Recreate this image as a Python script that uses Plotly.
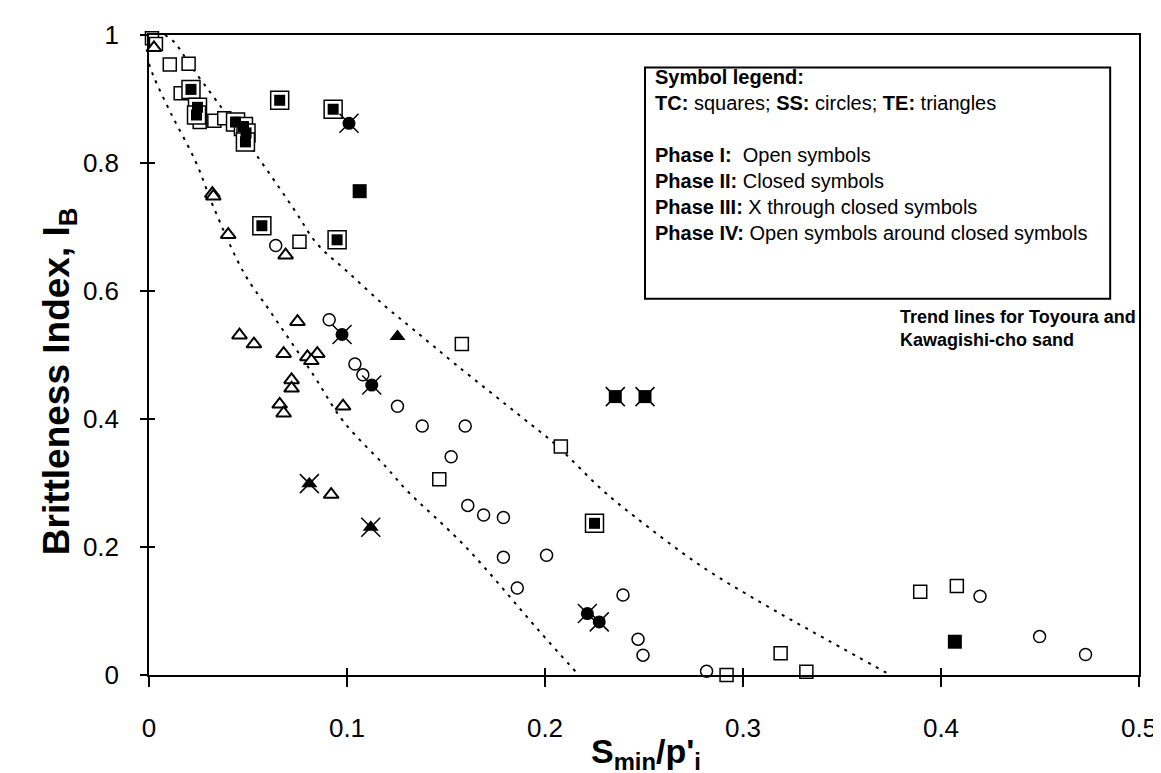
import plotly.graph_objects as go

# ---------------- data ----------------
# TC tests (squares)
tc_open_x = [0.0015, 0.0035, 0.0105, 0.020, 0.016, 0.0256, 0.033, 0.038, 0.076, 0.158, 0.208, 0.1466,
             0.2887, 0.2917, 0.319, 0.332, 0.3895, 0.408]
tc_open_y = [0.995, 0.986, 0.954, 0.955, 0.909, 0.864, 0.866, 0.870, 0.677, 0.517, 0.357, 0.306,
             -0.008, 0.000, 0.034, 0.005, 0.130, 0.139]
tc_closed_x = [0.1064, 0.407]
tc_closed_y = [0.756, 0.052]
tc_xthru_x = [0.2355, 0.2505]
tc_xthru_y = [0.435, 0.435]
tc_around_x = [0.0212, 0.0245, 0.024, 0.0437, 0.0477, 0.049, 0.0487, 0.066, 0.093, 0.057, 0.095, 0.225]
tc_around_y = [0.915, 0.887, 0.875, 0.864, 0.857, 0.847, 0.833, 0.898, 0.884, 0.702, 0.680, 0.237]

# SS tests (circles)
ss_open_x = [0.064, 0.091, 0.104, 0.108, 0.1255, 0.138, 0.1597, 0.1526, 0.161, 0.169, 0.179, 0.179,
             0.186, 0.2008, 0.2394, 0.247, 0.2495, 0.265, 0.2816, 0.4197, 0.4498, 0.473]
ss_open_y = [0.671, 0.555, 0.486, 0.469, 0.420, 0.389, 0.389, 0.341, 0.265, 0.250, 0.246, 0.184,
             0.136, 0.187, 0.125, 0.056, 0.031, -0.008, 0.006, 0.123, 0.060, 0.032]
ss_xthru_x = [0.101, 0.0975, 0.1125, 0.2214, 0.2274]
ss_xthru_y = [0.862, 0.532, 0.453, 0.096, 0.083]

# TE tests (triangles)
te_open_x = [0.0025, 0.032, 0.0325, 0.040, 0.069, 0.075, 0.0457, 0.053, 0.068, 0.080, 0.085, 0.082,
             0.072, 0.072, 0.066, 0.068, 0.098, 0.092]
te_open_y = [0.980, 0.752, 0.748, 0.688, 0.656, 0.552, 0.531, 0.517, 0.502, 0.497, 0.502, 0.491,
             0.461, 0.448, 0.423, 0.409, 0.420, 0.282]
te_closed_x = [0.1255]
te_closed_y = [0.529]
te_xthru_x = [0.081, 0.112]
te_xthru_y = [0.299, 0.231]

# trend lines (Toyoura and Kawagishi-cho sand)
trend_lo_x = [0.0, 0.0025, 0.011, 0.0236, 0.0326, 0.048, 0.061, 0.083, 0.098, 0.120, 0.130, 0.160, 0.197, 0.217]
trend_lo_y = [0.955, 0.934, 0.878, 0.802, 0.731, 0.628, 0.569, 0.469, 0.397, 0.324, 0.289, 0.200, 0.069, 0.0]
trend_hi_x = [0.008, 0.013, 0.021, 0.0346, 0.0557, 0.0738, 0.0848, 0.101, 0.119, 0.1335, 0.155, 0.189,
              0.205, 0.229, 0.2455, 0.279, 0.312, 0.343, 0.3745]
trend_hi_y = [1.0, 0.988, 0.952, 0.895, 0.806, 0.725, 0.674, 0.628, 0.577, 0.540, 0.485, 0.401,
              0.361, 0.289, 0.247, 0.170, 0.108, 0.054, 0.0]

x_ticks = [0, 0.1, 0.2, 0.3, 0.4, 0.5]
y_ticks = [0, 0.2, 0.4, 0.6, 0.8, 1]

legend_text = ("<b>Symbol legend:</b><br>"
               "<b>TC:</b> squares; <b>SS:</b> circles; <b>TE:</b> triangles<br>"
               " <br>"
               "<b>Phase I:</b>  Open symbols<br>"
               "<b>Phase II:</b> Closed symbols<br>"
               "<b>Phase III:</b> X through closed symbols<br>"
               "<b>Phase IV:</b> Open symbols around closed symbols")
trend_text = "<b>Trend lines for Toyoura and<br>Kawagishi-cho sand</b>"

# ---------------- figure ----------------
W, H = 1161, 773
L, R, T, B = 141, 24, 19, 106
PW, PH = W - L - R, H - T - B


def px2paper(px, py):
    return (px - L) / PW, (H - B - py) / PH


FONT = "Liberation Sans, Arial, sans-serif"
fig = go.Figure()

dot = "3px,6px"
for xs, ys in [(trend_lo_x, trend_lo_y), (trend_hi_x, trend_hi_y)]:
    fig.add_trace(go.Scatter(x=xs, y=ys, mode="lines", line=dict(color="black", width=2, dash=dot),
                             line_shape="spline", hoverinfo="skip", showlegend=False))


def mk(xs, ys, symbol, size, fill, lw=1.5, lc="black"):
    fig.add_trace(go.Scatter(x=xs, y=ys, mode="markers", cliponaxis=False, showlegend=False,
                             marker=dict(symbol=symbol, size=size, color=fill,
                                         line=dict(color=lc, width=lw))))


# Phase I open
mk(tc_open_x, tc_open_y, "square", 13, "white")
mk(ss_open_x, ss_open_y, "circle", 12, "white")
mk(te_open_x, te_open_y, "triangle-up", 13, "white", lw=2)
# Phase IV: open around closed
mk(tc_around_x, tc_around_y, "square", 18, "white", lw=1.5)
mk(tc_around_x, tc_around_y, "square", 11, "black", lw=0)
# Phase II closed
mk(tc_closed_x, tc_closed_y, "square", 14, "black", lw=0)
mk(te_closed_x, te_closed_y, "triangle-up", 14, "black", lw=0)
# Phase III: X through closed
mk(tc_xthru_x, tc_xthru_y, "square", 13, "black", lw=0)
mk(ss_xthru_x, ss_xthru_y, "circle", 13, "black", lw=0)
mk(te_xthru_x, te_xthru_y, "triangle-up", 14, "black", lw=0)
xx = tc_xthru_x + ss_xthru_x + te_xthru_x
xy = tc_xthru_y + ss_xthru_y + te_xthru_y
mk(xx, xy, "x-thin-open", 19, "black", lw=1.5)

# dummy trace for the overlay axes (inner half of crossing ticks)
fig.add_trace(go.Scatter(x=[0], y=[0], xaxis="x2", yaxis="y2", mode="markers",
                         marker=dict(opacity=0), hoverinfo="skip", showlegend=False))

axis_common = dict(showgrid=False, zeroline=False, color="black")
fig.update_layout(
    width=W, height=H, margin=dict(l=L, r=R, t=T, b=B),
    paper_bgcolor="white", plot_bgcolor="white",
    font=dict(family=FONT, color="black"),
    xaxis=dict(range=[0, 0.5], tickvals=x_ticks, ticktext=[f"{v:g}" for v in x_ticks],
               ticks="outside", ticklen=10, tickwidth=1.5, tickcolor="black",
               showline=True, mirror=True, linecolor="black", linewidth=1.5,
               tickfont=dict(size=26, family=FONT), ticklabelstandoff=19, **axis_common),
    yaxis=dict(range=[0, 1], tickvals=y_ticks, ticktext=[f"{v:g}" for v in y_ticks],
               ticks="outside", ticklen=7, tickwidth=1.5, tickcolor="black",
               showline=True, mirror=True, linecolor="black", linewidth=1.5,
               tickfont=dict(size=26, family=FONT), ticklabelstandoff=16, **axis_common),
    xaxis2=dict(range=[0, 0.5], tickvals=x_ticks, overlaying="x", anchor="y2", side="bottom",
                ticks="inside", ticklen=7, tickwidth=1.5, tickcolor="black",
                showticklabels=False, showline=False, **axis_common),
    yaxis2=dict(range=[0, 1], tickvals=y_ticks, overlaying="y", anchor="x2", side="left",
                ticks="inside", ticklen=6, tickwidth=1.5, tickcolor="black",
                showticklabels=False, showline=False, **axis_common),
)

# axis titles
ax, ay = px2paper(641, 746)
fig.add_annotation(text="<b>S<sub>min</sub>/p'<sub>i</sub></b>", xref="paper", yref="paper",
                   x=ax, y=ay, xanchor="center", yanchor="middle", showarrow=False,
                   font=dict(size=34, family=FONT))
ax, ay = px2paper(50, 370)
fig.add_annotation(text="<b>Brittleness Index, I<sub>B</sub></b>", xref="paper", yref="paper",
                   x=ax, y=ay, xanchor="center", yanchor="middle", showarrow=False, textangle=-90,
                   font=dict(size=37, family=FONT))

# legend box
bx0, by0 = px2paper(640, 286)
bx1, by1 = px2paper(1108, 52)
fig.add_shape(type="rect", xref="paper", yref="paper", x0=bx0, y0=by0, x1=bx1, y1=by1,
              line=dict(color="black", width=2), fillcolor="white", layer="below")
tx, ty = px2paper(648, 48)
fig.add_annotation(text=legend_text, xref="paper", yref="paper", x=tx, y=ty,
                   xanchor="left", yanchor="top", align="left", showarrow=False,
                   font=dict(size=20, family=FONT))
tx, ty = px2paper(895, 292)
fig.add_annotation(text=trend_text, xref="paper", yref="paper", x=tx, y=ty,
                   xanchor="left", yanchor="top", align="left", showarrow=False,
                   font=dict(size=18, family=FONT))

fig.write_html("out.html")
